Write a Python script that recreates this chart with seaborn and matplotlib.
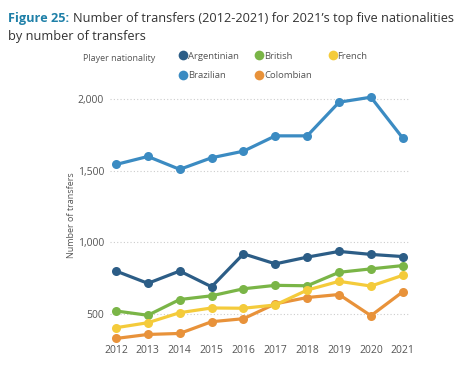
import matplotlib
matplotlib.use("Agg")
import matplotlib.pyplot as plt
import seaborn as sns
import pandas as pd

years = [2012, 2013, 2014, 2015, 2016, 2017, 2018, 2019, 2020, 2021]
argentinian = [800, 714, 800, 690, 920, 850, 897, 937, 916, 901]
brazilian = [1544, 1600, 1510, 1591, 1637, 1744, 1744, 1979, 2014, 1728]
british = [521, 491, 601, 627, 676, 700, 697, 791, 815, 838]
colombian = [329, 357, 364, 446, 467, 571, 615, 636, 488, 655]
french = [404, 439, 509, 542, 540, 563, 667, 728, 695, 770]

nationalities = ["Argentinian", "Brazilian", "British", "Colombian", "French"]
colors = ["#2c5d86", "#3b8bc2", "#7ab547", "#e8923a", "#f4cb3b"]

df = pd.DataFrame({
    "year": years * 5,
    "transfers": argentinian + brazilian + british + colombian + french,
    "nationality": sum([[n] * len(years) for n in nationalities], []),
})

sns.set_style("white")
plt.rcParams["font.family"] = ["Open Sans", "DejaVu Sans"]

fig = plt.figure(figsize=(4.77, 3.71), dpi=100)
ax = fig.add_axes([0.2298, 0.0765, 0.628, 0.687])

sns.lineplot(data=df, x="year", y="transfers", hue="nationality",
             hue_order=nationalities, palette=colors, marker="o",
             markersize=6.5, markeredgewidth=0, linewidth=2.3, ax=ax)

ax.set_xlim(2011.8, 2021.2)
ax.set_ylim(300, 2080)
ax.set_xticks(years)
ax.set_yticks([500, 1000, 1500, 2000])
ax.set_yticklabels(["500", "1,000", "1,500", "2,000"])
ax.tick_params(axis="both", labelsize=7.5, colors="#555555", length=0, pad=2)
ax.tick_params(axis="y", pad=4)
ax.yaxis.grid(True, linestyle=(0, (1, 2)), color="#cccccc", linewidth=0.8)
ax.xaxis.grid(False)
for s in ax.spines.values():
    s.set_visible(False)
ax.set_xlabel("")
ax.set_ylabel("Number of transfers", fontsize=6.5, color="#555555", labelpad=1)

handles, labels = ax.get_legend_handles_labels()
ax.legend_.remove()
leg = fig.legend(handles, labels, ncol=3, loc="upper left",
                 bbox_to_anchor=(0.36, 0.884), frameon=False, fontsize=6.8,
                 handlelength=0.6, handletextpad=0.2, columnspacing=1.9,
                 labelspacing=1.15, labelcolor="#555555")
for h in leg.legend_handles:
    h.set_linestyle("")
    h.set_markersize(7)

fig.text(0.174, 0.835, "Player nationality", fontsize=6.5, color="#555555")

# title: bold blue prefix followed by the rest of the sentence
t1 = fig.text(0.017, 0.94, "Figure 25:", fontsize=9.2, color="#1f80a8", fontweight="bold")
fig.canvas.draw()
bb = t1.get_window_extent().transformed(fig.transFigure.inverted())
fig.text(bb.x1 + 0.008, 0.94, "Number of transfers (2012-2021) for 2021\u2019s top five nationalities",
         fontsize=9.2, color="#333333")
fig.text(0.017, 0.893, "by number of transfers", fontsize=9.2, color="#333333")

fig.savefig("out.png", dpi=100)
